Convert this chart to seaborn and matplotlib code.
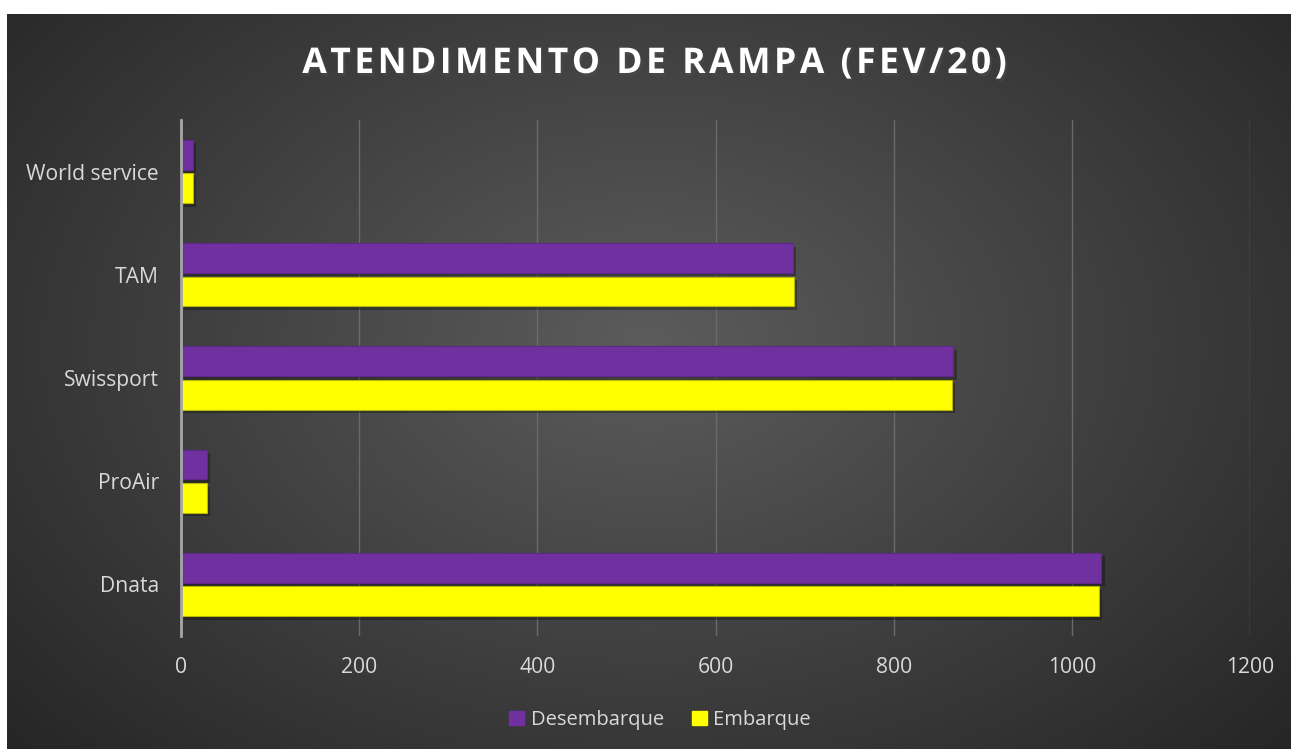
import numpy as np
import pandas as pd
import seaborn as sns
import matplotlib.pyplot as plt
import matplotlib.patheffects as pe

# dados
empresas = ['World service', 'TAM', 'Swissport', 'ProAir', 'Dnata']
desembarque = [13, 687, 867, 29, 1033]
embarque = [13, 688, 865, 29, 1030]
series = ['Desembarque', 'Embarque']
cores = ['#7030A0', '#FFFF00']
x_ticks = [0, 200, 400, 600, 800, 1000, 1200]

df = pd.DataFrame({
    'Empresa': empresas * 2,
    'Tipo': [series[0]] * len(empresas) + [series[1]] * len(empresas),
    'Valor': desembarque + embarque,
})

sns.set_theme(style='dark')
plt.rcParams['font.family'] = ['Open Sans', 'DejaVu Sans']

fig = plt.figure(figsize=(12.91, 7.49), dpi=100, facecolor='white')

# fundo com gradiente radial
bg = fig.add_axes([7 / 1291, 0, 1 - 7 / 1291, 1 - 14 / 749], zorder=0)
yy, xx = np.mgrid[0:735, 0:1284]
r = np.sqrt(((xx - 640) / 900) ** 2 + ((yy - 330) / 620) ** 2)
shade = np.clip(0.36 - 0.22 * r, 0.14, 0.36)
bg.imshow(np.dstack([shade] * 3), aspect='auto', extent=[0, 1, 0, 1], origin='upper')
bg.axis('off')

ax = fig.add_axes([181 / 1291, 1 - 636 / 749, 1069 / 1291, 516 / 749], zorder=1)
ax.patch.set_alpha(0)

sns.barplot(data=df, y='Empresa', x='Valor', hue='Tipo', order=empresas,
            hue_order=series, palette=cores, saturation=1, orient='h',
            width=0.65, gap=0.11, ax=ax, legend=True)

for bar, c in zip(ax.patches, [cores[0]] * 5 + [cores[1]] * 5):
    edge = '#5E2888' if c == cores[0] else '#B8B800'
    bar.set_edgecolor(edge)
    bar.set_linewidth(0.8)
    bar.set_path_effects([pe.SimplePatchShadow(offset=(2.5, -2.5), shadow_rgbFace='black', alpha=0.3),
                          pe.Normal()])

ax.set_xlim(0, 1200)
ax.set_xticks(x_ticks)
ax.xaxis.grid(True, color='#6A6A6A', linewidth=1)
ax.yaxis.grid(False)
ax.set_axisbelow(True)
for s in ['top', 'right', 'bottom']:
    ax.spines[s].set_visible(False)
ax.spines['left'].set_color('#A6A6A6')
ax.spines['left'].set_linewidth(2)
ax.tick_params(axis='both', length=0, labelsize=15.2, colors='#D9D9D9')
ax.tick_params(axis='y', pad=16)
ax.tick_params(axis='x', pad=15)
ax.set_xlabel('')
ax.set_ylabel('')

leg = ax.legend(loc='center', bbox_to_anchor=(660 / 1291, 1 - 720 / 749),
                bbox_transform=fig.transFigure, ncol=2, frameon=False,
                fontsize=14.5, handlelength=0.75, handleheight=0.75,
                handletextpad=0.3, columnspacing=1.4)
for t in leg.get_texts():
    t.set_color('#D9D9D9')
for h in leg.legend_handles:
    h.set_path_effects([])
    h.set_edgecolor(h.get_facecolor())

titulo = 'ATENDIMENTO DE RAMPA (FEV/20)'
fig.text(653 / 1291, 1 - 64 / 749, '\u200a'.join(titulo), ha='center', va='center',
         fontsize=25.5, fontweight='bold', color='white',
         path_effects=[pe.withSimplePatchShadow(offset=(1.5, -2), alpha=0.5)])

fig.savefig('out.png', dpi=100, facecolor='white')
